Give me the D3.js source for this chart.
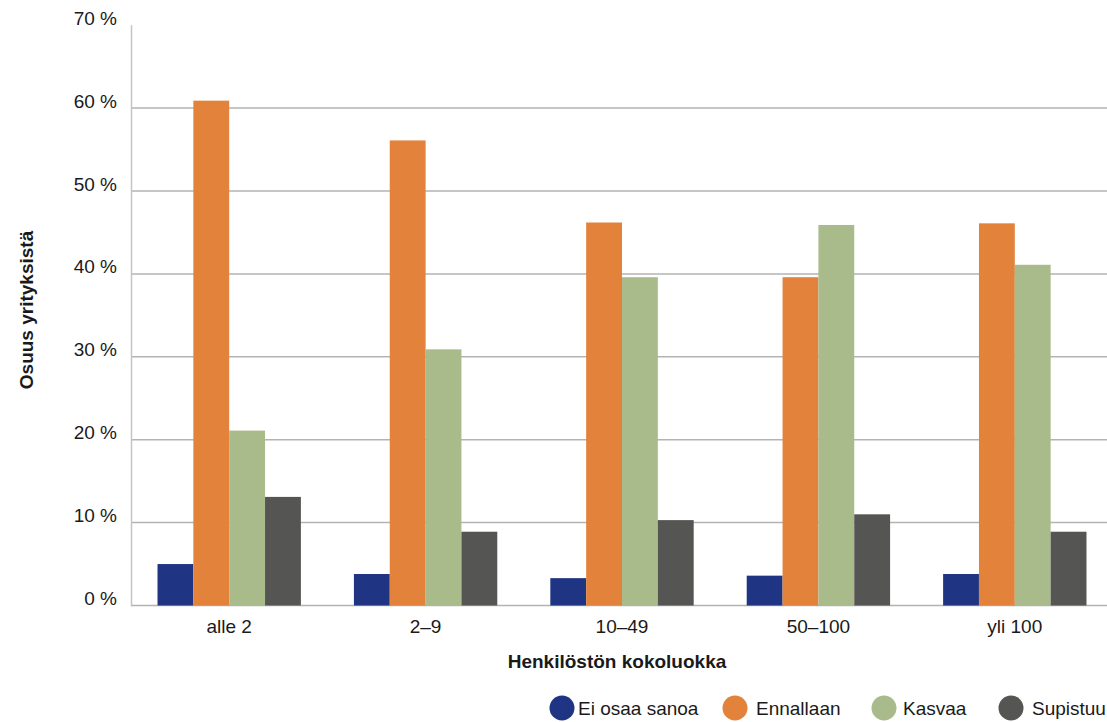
<!DOCTYPE html>
<html>
<head>
<meta charset="utf-8">
<script src="https://cdn.jsdelivr.net/npm/d3@7"></script>
<style>
  body { margin: 0; background: #fff; }
  svg { display: block; font-family: "Liberation Sans", Arial, sans-serif; }
</style>
</head>
<body>
<div id="chart"></div>
<script>
/* Grouped bars — share of firms by staff size class. */

var categories = ["alle 2", "2\u20139", "10\u201349", "50\u2013100", "yli 100"];
var seriesNames = ["Ei osaa sanoa", "Ennallaan", "Kasvaa", "Supistuu"];
var eiOsaa    = [5.0, 3.8, 3.3, 3.6, 3.8];
var ennallaan = [60.9, 56.1, 46.2, 39.6, 46.1];
var kasvaa    = [21.1, 30.9, 39.6, 45.9, 41.1];
var supistuu  = [13.1, 8.9, 10.3, 11.0, 8.9];
var yTicks = [0, 10, 20, 30, 40, 50, 60, 70];
var seriesColors = ["#1f3584", "#e2823b", "#a9bb8b", "#555553"];

var values = [eiOsaa, ennallaan, kasvaa, supistuu];
var rows = categories.map(function (c, i) {
  return { cat: c, vals: values.map(function (s) { return s[i]; }) };
});

var width = 1107, height = 722;
var svg = d3.select("#chart").append("svg")
  .attr("width", width).attr("height", height);

var x0 = d3.scaleBand().domain(categories).range([131, 1113])
  .paddingInner(0.27).paddingOuter(0.135);
var x1 = d3.scaleBand().domain(seriesNames).range([0, x0.bandwidth()]);
var y = d3.scaleLinear().domain([0, 70]).range([605.5, 25.2]);

/* grid lines (no line at the top tick) */
svg.append("g").selectAll("line")
  .data(yTicks.filter(function (t) { return t < 70; }))
  .join("line")
  .attr("x1", 131).attr("x2", width)
  .attr("y1", function (d) { return y(d); }).attr("y2", function (d) { return y(d); })
  .attr("stroke", "#b3b3b3").attr("stroke-width", 1.5);

/* left axis line */
svg.append("line")
  .attr("x1", 131.5).attr("x2", 131.5).attr("y1", y(70)).attr("y2", y(0) + 1)
  .attr("stroke", "#c4c4c4").attr("stroke-width", 1.5);

/* y tick labels */
svg.append("g").selectAll("text").data(yTicks).join("text")
  .attr("x", 117).attr("y", function (d) { return y(d) - 0.5; })
  .attr("text-anchor", "end")
  .attr("font-size", 19).attr("fill", "#1a1a1a")
  .text(function (d) { return d + " %"; });

/* bars */
var grp = svg.append("g").selectAll("g").data(rows).join("g")
  .attr("transform", function (d) { return "translate(" + x0(d.cat) + ",0)"; });

grp.selectAll("rect")
  .data(function (d) { return d.vals.map(function (v, i) { return { name: seriesNames[i], v: v, i: i }; }); })
  .join("rect")
  .attr("x", function (d) { return x1(d.name); })
  .attr("width", x1.bandwidth())
  .attr("y", function (d) { return y(d.v); })
  .attr("height", function (d) { return y(0) - y(d.v); })
  .attr("fill", function (d) { return seriesColors[d.i]; });

/* x category labels */
svg.append("g").selectAll("text").data(categories).join("text")
  .attr("x", function (d) { return x0(d) + x0.bandwidth() / 2; })
  .attr("y", 632.5)
  .attr("text-anchor", "middle")
  .attr("font-size", 19).attr("fill", "#1a1a1a")
  .text(function (d) { return d; });

/* axis titles */
svg.append("text")
  .attr("x", 617).attr("y", 668)
  .attr("text-anchor", "middle")
  .attr("font-size", 19).attr("font-weight", "bold").attr("fill", "#1a1a1a")
  .text("Henkil\u00f6st\u00f6n kokoluokka");

svg.append("text")
  .attr("transform", "translate(33,310) rotate(-90)")
  .attr("text-anchor", "middle")
  .attr("font-size", 19).attr("font-weight", "bold").attr("fill", "#1a1a1a")
  .text("Osuus yrityksist\u00e4");

/* legend */
var legendX = [562, 735, 884, 1011];
var leg = svg.append("g").selectAll("g").data(seriesNames).join("g")
  .attr("transform", function (d, i) { return "translate(" + legendX[i] + ",708)"; });
leg.append("circle").attr("r", 12.5)
  .attr("fill", function (d, i) { return seriesColors[i]; });
leg.append("text")
  .attr("x", function (d, i) { return i === 0 ? 16 : (i === 2 ? 19 : 21); }).attr("y", 7)
  .attr("font-size", 19).attr("fill", "#1a1a1a")
  .text(function (d) { return d; });
</script>
</body>
</html>
